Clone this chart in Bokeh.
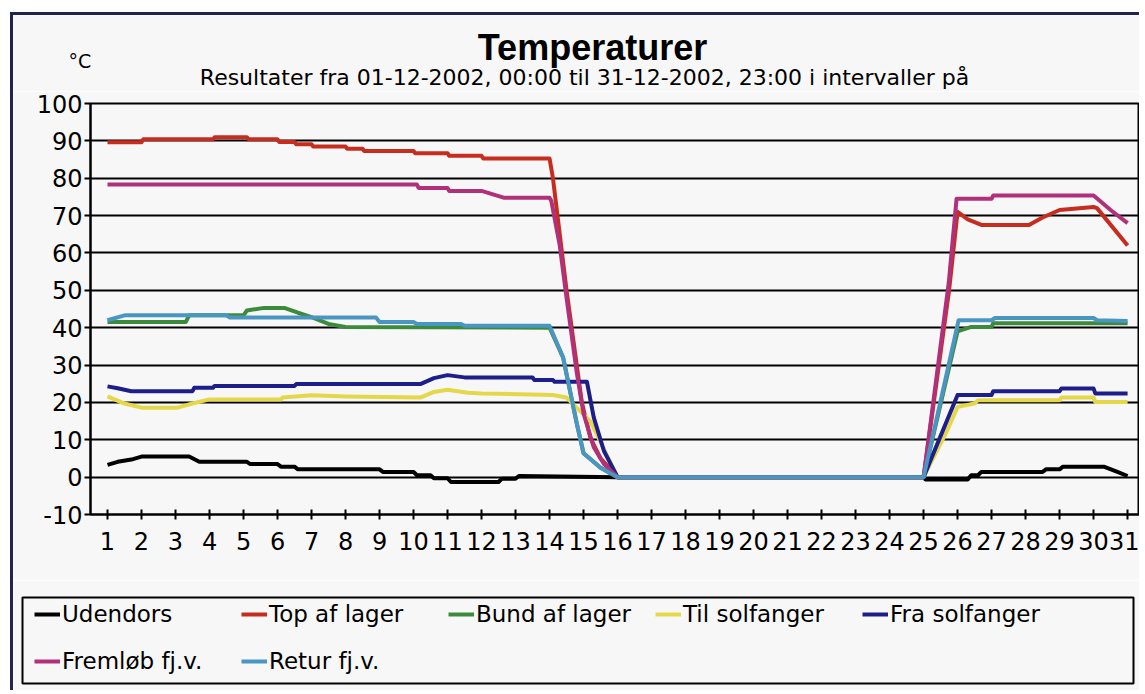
from bokeh.plotting import figure
from bokeh.layouts import column
from bokeh.models import Range1d, FixedTicker, Label, Legend, LegendItem
from bokeh.embed import file_html
from bokeh.resources import INLINE

# ---------------- data ----------------
day_ticks = list(range(1, 32))
temp_ticks = list(range(-10, 101, 10))

title_text = "Temperaturer"
subtitle_text = "Resultater fra 01-12-2002, 00:00 til 31-12-2002, 23:00 i intervaller på"
unit_text = "°C"

names = ["Udendors", "Top af lager", "Bund af lager", "Til solfanger",
         "Fra solfanger", "Fremløb fj.v.", "Retur fj.v."]
colors = ["#000000", "#C62D1F", "#3C8A3C", "#E4D84A", "#1E1E8A", "#B0307A", "#4A96C2"]

udendors_x = [1, 1.3, 1.7, 2.0, 3.4, 3.7, 5.1, 5.2, 6.0, 6.1, 6.5, 6.6, 9.0, 9.1, 10.0, 10.1,
              10.5, 10.6, 11.0, 11.1, 12.5, 12.6, 13.0, 13.1, 16.0, 25.0, 25.05, 26.3, 26.4,
              26.6, 26.7, 28.5, 28.6, 29.0, 29.1, 30.3, 30.7, 31.0]
udendors_y = [3.3, 4.1, 4.7, 5.5, 5.5, 4.1, 4.1, 3.5, 3.5, 2.8, 2.8, 2.1, 2.1, 1.4, 1.4, 0.5,
              0.5, -0.3, -0.3, -1.3, -1.3, -0.4, -0.4, 0.3, 0.0, 0.0, -0.6, -0.6, 0.5,
              0.5, 1.4, 1.4, 2.1, 2.1, 2.8, 2.8, 1.4, 0.3]

top_x = [1, 2.0, 2.05, 4.1, 4.15, 5.1, 5.15, 6.0, 6.05, 6.5, 6.55, 7.0, 7.05, 8.0, 8.05, 8.5,
         8.55, 10.0, 10.05, 11.0, 11.05, 12.0, 12.05, 14.0, 14.1, 14.5, 14.8, 14.95, 15.2,
         15.5, 16.0, 25.0, 25.75, 26.0, 26.3, 26.7, 28.1, 28.5, 29.0, 30.0, 30.1, 31.0]
top_y = [89.6, 89.6, 90.4, 90.4, 91.0, 91.0, 90.4, 90.4, 89.7, 89.7, 89.1, 89.1, 88.5, 88.5,
         87.9, 87.9, 87.3, 87.3, 86.7, 86.7, 86.0, 86.0, 85.3, 85.3, 80.0, 50.0, 30.0, 20.0,
         10.5, 5.0, 0.0, 0.0, 50.0, 71.0, 69.0, 67.5, 67.5, 69.5, 71.5, 72.3, 72.0, 62.0]

bund_x = [1, 3.3, 3.4, 5.0, 5.1, 5.6, 6.2, 6.6, 7.0, 7.5, 8.0, 14.0, 14.4, 14.8, 15.0, 15.5,
          16.0, 25.0, 26.0, 26.4, 27.0, 27.05, 31.0]
bund_y = [41.5, 41.5, 43.3, 43.3, 44.6, 45.3, 45.3, 44.0, 42.8, 41.0, 40.2, 40.0, 32.0, 14.4,
          6.4, 2.5, 0.0, 0.0, 39.0, 40.2, 40.2, 41.2, 41.2]

til_x = [1, 1.5, 2.0, 3.06, 3.5, 4.0, 6.1, 6.15, 7.0, 8.0, 10.2, 10.6, 11.0, 11.6, 12.0, 14.1,
         14.5, 15.2, 16.0, 25.0, 25.7, 26.0, 26.5, 26.6, 29.0, 29.05, 30.0, 30.05, 31.0]
til_y = [21.6, 19.7, 18.6, 18.6, 19.7, 20.8, 20.8, 21.3, 21.9, 21.6, 21.3, 22.8, 23.4, 22.6,
         22.4, 22.0, 21.3, 15.0, 0.0, 0.0, 12.6, 18.8, 19.7, 20.6, 20.6, 21.3, 21.3, 20.1, 20.1]

fra_x = [1, 1.3, 1.7, 3.5, 3.55, 4.1, 4.15, 6.5, 6.55, 10.2, 10.6, 11.0, 11.5, 13.5, 13.55,
         14.1, 14.15, 15.1, 15.3, 15.6, 16.0, 25.0, 26.0, 27.0, 27.05, 29.0, 29.05, 30.0,
         30.05, 31.0]
fra_y = [24.3, 23.8, 23.0, 23.0, 23.9, 23.9, 24.4, 24.4, 24.9, 24.9, 26.5, 27.3, 26.7, 26.7,
         26.0, 26.0, 25.5, 25.5, 16.0, 7.0, 0.0, 0.0, 22.0, 22.0, 23.0, 23.0, 23.7, 23.7,
         22.4, 22.4]

fremlob_x = [1, 10.1, 10.15, 11.0, 11.05, 12.0, 12.65, 14.0, 14.05, 14.3, 14.5, 14.8, 15.0,
             15.3, 15.6, 16.0, 25.0, 25.74, 25.97, 27.0, 27.05, 30.0, 30.5, 31.0]
fremlob_y = [78.3, 78.3, 77.4, 77.4, 76.6, 76.6, 74.8, 74.8, 74.0, 62.0, 48.0, 28.0, 17.0,
             8.0, 3.5, 0.0, 0.0, 52.0, 74.5, 74.5, 75.4, 75.4, 71.5, 68.0]

retur_x = [1, 1.5, 4.5, 4.6, 8.9, 9.0, 10.0, 10.1, 11.4, 11.5, 14.0, 14.4, 14.8, 15.0, 15.5,
           16.0, 25.0, 26.03, 27.0, 27.1, 30.0, 30.1, 31.0]
retur_y = [42.0, 43.3, 43.3, 42.7, 42.7, 41.5, 41.5, 41.0, 41.0, 40.5, 40.5, 32.0, 14.4, 6.4,
           2.5, 0.0, 0.0, 42.0, 42.0, 42.6, 42.6, 42.0, 41.8]

series_x = [udendors_x, top_x, bund_x, til_x, fra_x, fremlob_x, retur_x]
series_y = [udendors_y, top_y, bund_y, til_y, fra_y, fremlob_y, retur_y]

# ---------------- styling ----------------
FONT_T = "Liberation Sans"
FONT = "DejaVu Sans"
BG = "#F7F7F7"
W = 1126

def bare(fig):
    fig.background_fill_color = BG
    fig.border_fill_color = BG
    fig.xgrid.grid_line_color = None
    fig.ygrid.grid_line_color = None
    return fig

# ---------------- header (titles) ----------------
HH = 76
hdr = bare(figure(width=W, height=HH, output_backend="svg", toolbar_location=None,
                  x_range=Range1d(0, W), y_range=Range1d(HH, 0),
                  x_axis_type=None, y_axis_type=None, frame_align=False,
                  min_border=0, min_border_left=0, min_border_right=0,
                  min_border_top=0, min_border_bottom=0))
hdr.outline_line_color = None
hdr.add_layout(Label(x=579, y=32, text=title_text, text_align="center",
                     text_baseline="alphabetic", text_font=FONT_T, text_font_size="36px",
                     text_font_style="bold", text_color="black"))
hdr.add_layout(Label(x=571, y=62, text=subtitle_text, text_align="center",
                     text_baseline="alphabetic", text_font=FONT, text_font_size="22px",
                     text_color="black"))
hdr.add_layout(Label(x=55, y=45, text=unit_text, text_align="left",
                     text_baseline="alphabetic", text_font=FONT, text_font_size="19px",
                     text_color="black"))

# ---------------- chart ----------------
p = bare(figure(width=W, height=489, output_backend="svg", toolbar_location=None,
                x_range=Range1d(0.5, 31.35), y_range=Range1d(-10, 100), frame_align=False,
                min_border_left=77, min_border_right=0, min_border_top=12,
                min_border_bottom=66))
p.outline_line_color = "black"
p.outline_line_width = 2
p.ygrid.grid_line_color = "black"
p.ygrid.grid_line_width = 2
p.ygrid.ticker = FixedTicker(ticks=temp_ticks)

p.yaxis.ticker = FixedTicker(ticks=temp_ticks)
p.yaxis.major_label_overrides = {-10: "-10"}
p.yaxis.axis_line_width = 2
p.yaxis.major_tick_line_width = 2
p.yaxis.major_tick_out = 6
p.yaxis.major_tick_in = 0
p.yaxis.minor_tick_line_color = None
p.yaxis.major_label_standoff = 2
p.yaxis.major_label_text_font = FONT
p.yaxis.major_label_text_font_size = "24px"
p.yaxis.major_label_text_color = "black"

p.xaxis.ticker = FixedTicker(ticks=day_ticks)
p.xaxis.axis_line_width = 2
p.xaxis.major_tick_line_width = 2
p.xaxis.major_tick_out = 5
p.xaxis.major_tick_in = 5
p.xaxis.minor_tick_line_color = None
p.xaxis.major_label_standoff = 12
p.xaxis.major_label_text_font = FONT
p.xaxis.major_label_text_font_size = "24px"
p.xaxis.major_label_text_color = "black"

for xs, ys, c in zip(series_x, series_y, colors):
    p.line(xs, ys, line_color=c, line_width=4, line_join="round")

# ---------------- legend box ----------------
# the legend figure holds the same series, scrolled out of view, only to key the legend
lg = bare(figure(width=W, height=110, output_backend="svg", toolbar_location=None,
                 x_range=Range1d(-1000, -999), y_range=Range1d(-1000, -999),
                 x_axis_type=None, y_axis_type=None, frame_align=False,
                 min_border_left=9, min_border_right=6, min_border_top=17,
                 min_border_bottom=7))
lg.outline_line_color = "black"
lg.outline_line_width = 2
samples = [lg.line(xs, ys, line_color=c, line_width=4)
           for xs, ys, c in zip(series_x, series_y, colors)]
legend = Legend(items=[LegendItem(label=n, renderers=[r]) for n, r in zip(names, samples)],
                orientation="horizontal", ncols=5, location=(12, 9),
                glyph_width=26, glyph_height=24, label_height=24, label_width=158,
                label_standoff=2, spacing=21, padding=0, margin=0,
                label_text_font=FONT, label_text_font_size="23px",
                label_text_color="black",
                border_line_color=None, background_fill_alpha=0)
lg.add_layout(legend, "center")

layout = column(hdr, p, lg, spacing=0,
                styles={"border-left": "3px solid #23234F", "border-top": "3px solid #23234F",
                        "margin-left": "10px", "margin-top": "12px"})

open("out.html", "w").write(file_html(layout, INLINE))
